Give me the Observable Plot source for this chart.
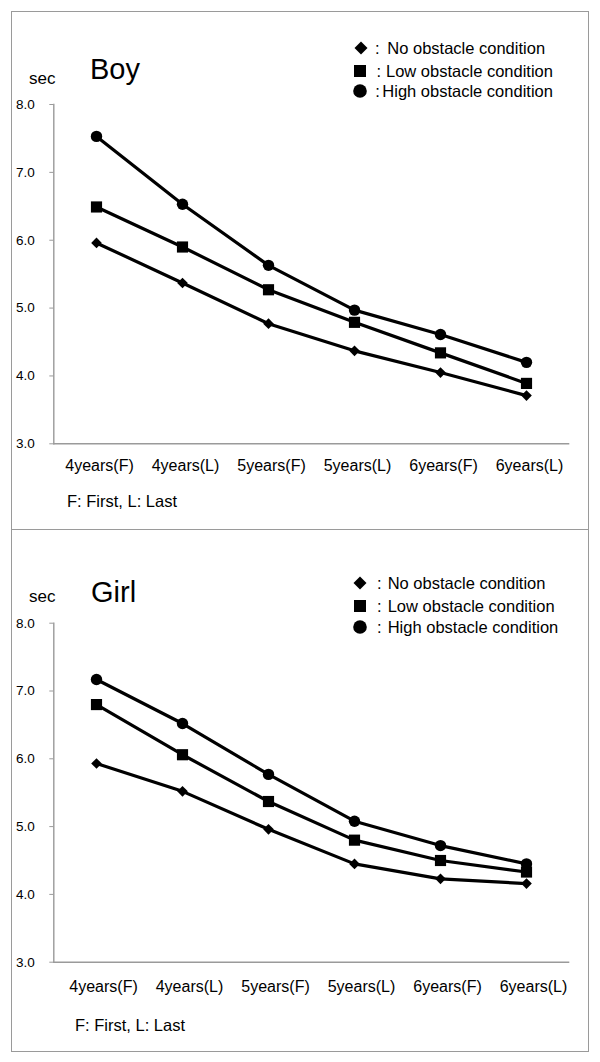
<!DOCTYPE html>
<html>
<head>
<meta charset="utf-8">
<script src="https://cdn.jsdelivr.net/npm/d3@7"></script>
<script src="https://cdn.jsdelivr.net/npm/@observablehq/plot@0.6"></script>
<style>
html, body { margin: 0; padding: 0; background: #fff; }
#page { position: relative; width: 600px; height: 1062px; overflow: hidden;
  font-family: "Liberation Sans", Arial, sans-serif; color: #000; }
.box { position: absolute; left: 11px; width: 578px; box-sizing: border-box; border: 1.5px solid #9a9a9a; }
.t { position: absolute; white-space: nowrap; line-height: 1; }
.plot { position: absolute; left: 0; }
.sym { position: absolute; }
</style>
</head>
<body>
<div id="page"></div>
<script>
// ---- data ----
const categories = ["4years(F)", "4years(L)", "5years(F)", "5years(L)", "6years(F)", "6years(L)"];
const yTicks = [3, 4, 5, 6, 7, 8];
const seriesNames = ["No obstacle condition", "Low obstacle condition", "High obstacle condition"];

const boyNo   = [5.96, 5.37, 4.77, 4.37, 4.05, 3.71];
const boyLow  = [6.49, 5.90, 5.27, 4.79, 4.34, 3.89];
const boyHigh = [7.53, 6.53, 5.63, 4.97, 4.61, 4.20];

const girlNo   = [5.93, 5.52, 4.96, 4.45, 4.23, 4.16];
const girlLow  = [6.80, 6.06, 5.37, 4.80, 4.50, 4.33];
const girlHigh = [7.17, 6.52, 5.77, 5.08, 4.72, 4.45];

const footnote = "F: First, L: Last";
const unitLabel = "sec";

// ---- rendering ----
const page = document.getElementById("page");
const axisGray = "#9a9a9a";
const FONT = "Liberation Sans, Arial, sans-serif";

function addText(txt, left, baseline, size) {
  const d = document.createElement("div");
  d.className = "t";
  d.textContent = txt;
  d.style.left = left + "px";
  d.style.top = (baseline - 0.85 * size) + "px";
  d.style.fontSize = size + "px";
  page.appendChild(d);
}

function addSymbol(kind, cx, cy) {
  const ns = "http://www.w3.org/2000/svg";
  const s = document.createElementNS(ns, "svg");
  s.setAttribute("class", "sym");
  s.setAttribute("width", 16); s.setAttribute("height", 16);
  s.style.left = (cx - 8) + "px"; s.style.top = (cy - 8) + "px";
  let el;
  if (kind === "diamond") {
    el = document.createElementNS(ns, "polygon");
    el.setAttribute("points", "8,1.5 14.5,8 8,14.5 1.5,8");
  } else if (kind === "square") {
    el = document.createElementNS(ns, "rect");
    el.setAttribute("x", 2); el.setAttribute("y", 2);
    el.setAttribute("width", 12); el.setAttribute("height", 12);
  } else {
    el = document.createElementNS(ns, "circle");
    el.setAttribute("cx", 8); el.setAttribute("cy", 8); el.setAttribute("r", 6.8);
  }
  el.setAttribute("fill", "#000");
  s.appendChild(el);
  page.appendChild(s);
}

function addBox(top, height) {
  const b = document.createElement("div");
  b.className = "box";
  b.style.top = top + "px";
  b.style.height = height + "px";
  page.appendChild(b);
}

function makePlot(no, low, high, o) {
  const rows = (vals, s) => categories.map((c, i) => ({cat: c, v: vals[i], s}));
  const dNo = rows(no, seriesNames[0]);
  const dLow = rows(low, seriesNames[1]);
  const dHigh = rows(high, seriesNames[2]);
  const all = [...dNo, ...dLow, ...dHigh];
  const svg = Plot.plot({
    width: 600,
    height: o.height,
    marginTop: o.mt,
    marginBottom: o.mb,
    marginLeft: 53.3,
    marginRight: 30.7,
    style: {fontFamily: FONT, background: "transparent", color: "#000", overflow: "visible"},
    x: {type: "point", domain: categories, padding: 0.5},
    y: {domain: [3, 8]},
    marks: [
      Plot.ruleY([3], {stroke: axisGray, strokeWidth: 1.4}),
      Plot.frame({anchor: "left", stroke: axisGray, strokeWidth: 1.4}),
      Plot.axisY(yTicks, {tickSize: 4, tickPadding: 15, tickFormat: d => d.toFixed(1),
        fontSize: 13.5, stroke: axisGray, fill: "#000", label: null}),
      Plot.axisX({tickSize: 0, tickPadding: o.xpad, fontSize: 16, fill: "#000",
        dx: o.xdx, label: null}),
      Plot.line(all, {x: "cat", y: "v", z: "s", stroke: "#000", strokeWidth: 3.2, strokeLinejoin: "round"}),
      Plot.dot(dNo, {x: "cat", y: "v", symbol: "diamond2", r: 4.8, fill: "#000", stroke: "none"}),
      Plot.dot(dLow, {x: "cat", y: "v", symbol: "square", r: 6.3, fill: "#000", stroke: "none"}),
      Plot.dot(dHigh, {x: "cat", y: "v", symbol: "circle", r: 5.7, fill: "#000", stroke: "none"})
    ]
  });
  svg.classList.add("plot");
  svg.style.top = o.top + "px";
  page.appendChild(svg);
}

// panel boxes
addBox(11, 518.5);
addBox(529, 522.5);

// Boy panel
makePlot(boyNo, boyLow, boyHigh, {top: 0, height: 529, mt: 104, mb: 85.7, xpad: 16, xdx: 3});
addText(unitLabel, 29, 84, 17);
addText("Boy", 90, 80, 29);
addSymbol("diamond", 360.5, 48.3);
addSymbol("square", 360, 70.7);
addSymbol("circle", 360, 90.7);
addText(":", 375, 54.2, 16.5); addText(seriesNames[0], 387.3, 54.2, 16.5);
addText(":", 376.5, 76.6, 16.5); addText(seriesNames[1], 386, 76.6, 16.5);
addText(":", 375.2, 96.6, 16.5); addText(seriesNames[2], 382.3, 96.6, 16.5);
addText(footnote, 67, 506.7, 16.5);

// Girl panel
makePlot(girlNo, girlLow, girlHigh, {top: 529, height: 533, mt: 93.7, mb: 100.3, xpad: 18.5, xdx: 7});
addText(unitLabel, 29, 602.3, 17);
addText("Girl", 91, 602.3, 29);
addSymbol("diamond", 360.2, 583.3);
addSymbol("square", 360.2, 606);
addSymbol("circle", 360.2, 627.3);
addText(":", 377, 589.2, 16.5); addText(seriesNames[0], 387.7, 589.2, 16.5);
addText(":", 377, 611.9, 16.5); addText(seriesNames[1], 387.7, 611.9, 16.5);
addText(":", 377, 633.2, 16.5); addText(seriesNames[2], 387.7, 633.2, 16.5);
addText(footnote, 75, 1031, 16.5);
</script>
</body>
</html>
